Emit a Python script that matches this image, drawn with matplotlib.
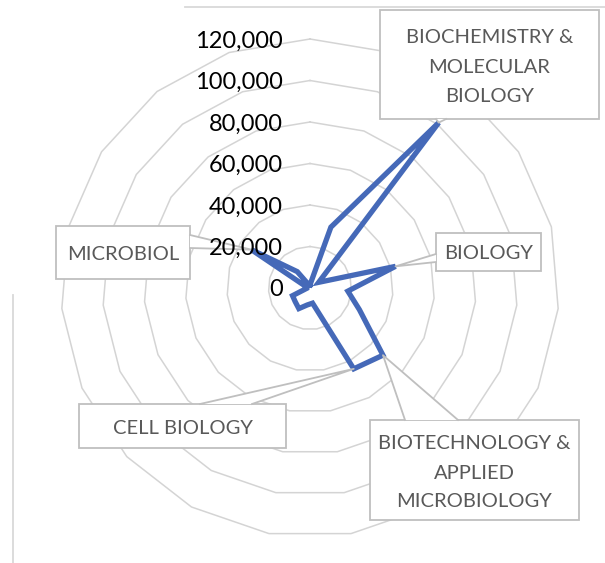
import numpy as np
import matplotlib
matplotlib.use('Agg')
import matplotlib.pyplot as plt
from matplotlib.patches import Rectangle, Polygon
from matplotlib.transforms import ScaledTranslation

# Data: 19 subject categories, clockwise from the top
categories = ['', '', 'BIOCHEMISTRY & MOLECULAR BIOLOGY', '', 'BIOLOGY', '', '',
              'BIOTECHNOLOGY & APPLIED MICROBIOLOGY', 'CELL BIOLOGY', '', '', '',
              '', '', '', '', 'MICROBIOLOGY', '', '']
values = [1500, 31000, 101000, 5000, 42500, 18300, 26000, 47800, 44300, 7400,
          8300, 11300, 9700, 9200, 1500, 1500, 33800, 10000, 1500]
ticks = [0, 20000, 40000, 60000, 80000, 100000, 120000]

# callouts: category index, text lines
callout_idx = [2, 4, 7, 8, 16]
callout_text = [['BIOCHEMISTRY &', 'MOLECULAR', 'BIOLOGY'],
                ['BIOLOGY'],
                ['BIOTECHNOLOGY &', 'APPLIED', 'MICROBIOLOGY'],
                ['CELL BIOLOGY'],
                ['MICROBIOL']]
# layout of the callout boxes in pixels: (x0, y0, x1, y1), tail base points, text line y's
callout_box = [(380, 10, 599, 119), (436, 233, 541, 271), (370, 420, 579, 520),
               (79, 404, 286, 448), (56, 226, 190, 279)]
callout_base = [((436, 119), (446, 119)), ((436, 254), (436, 262)),
                ((405, 420), (458, 420)), ((200, 404), (252, 404)),
                ((190, 235), (190, 248))]
callout_ty = [[36, 66, 95], [252], [442, 472, 500], [427], [253]]

W, H = 605, 563
cx, cy, R = 310, 288, 249
fig = plt.figure(figsize=(W / 100, H / 100), dpi=100)
ax = fig.add_axes([(cx - R) / W, (H - cy - R) / H, 2 * R / W, 2 * R / H],
                  projection='polar')
ax.set_theta_zero_location('N')
ax.set_theta_direction(-1)
ax.set_ylim(0, 120000)
ax.set_axis_off()

n = len(values)
theta = np.arange(n) * 2 * np.pi / n
tc = np.append(theta, theta[0])

# polygon gridlines
for r in ticks[1:]:
    ax.plot(tc, [r] * (n + 1), color='#d4d4d4', lw=1.1, zorder=1, clip_on=False)

ax.plot(tc, values + values[:1], color='#4569b8', lw=3.8, zorder=3,
        solid_joinstyle='miter', clip_on=False)

# overlay in pixel coordinates for the chart border and callouts
ov = fig.add_axes([0, 0, 1, 1])
ov.set_xlim(0, W)
ov.set_ylim(H, 0)
ov.set_axis_off()
ov.plot([185, W], [7, 7], color='#d9d9d9', lw=1.3)
ov.plot([13, 13], [295, H], color='#d9d9d9', lw=1.3)

# radial tick labels sit on top of the callouts
off = ax.transData + ScaledTranslation(-27 / 100, 0, fig.dpi_scale_trans)
for r in ticks:
    ov.text(0, r, f'{r:,}', transform=off, ha='right', va='center_baseline',
            fontsize=17, family='Lato', color='black', zorder=9)

inv = ov.transData.inverted()
for k, lines, box, base, tys in zip(callout_idx, callout_text, callout_box,
                                     callout_base, callout_ty):
    tip = inv.transform(ax.transData.transform((theta[k], values[k])))
    x0, y0, x1, y1 = box
    ov.add_patch(Rectangle((x0, y0), x1 - x0, y1 - y0, fc='white',
                           ec='#bfbfbf', lw=1.3, zorder=5))
    ov.add_patch(Polygon([base[0], tip, base[1]], closed=True, fc='white',
                         ec='none', zorder=6))
    ov.plot([base[0][0], tip[0], base[1][0]], [base[0][1], tip[1], base[1][1]],
            color='#bfbfbf', lw=1.3, zorder=7)
    for line, ty in zip(lines, tys):
        ov.text((x0 + x1) / 2, ty, line, ha='center', va='center_baseline',
                fontsize=14.5, family='Lato', color='#595959', zorder=8)

fig.savefig('out.png', dpi=100)
